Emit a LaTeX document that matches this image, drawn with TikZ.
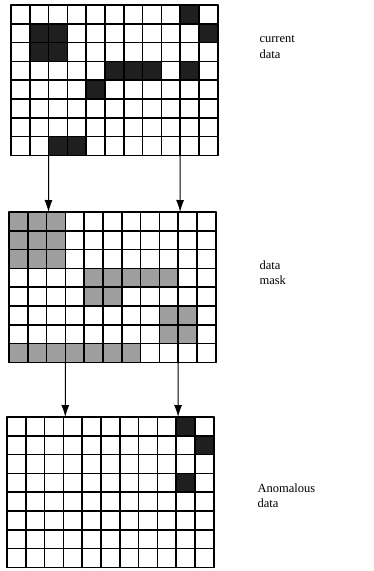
\documentclass[tikz,border=0pt]{standalone}
\usepackage{fontspec}
\setmainfont{Liberation Serif}
\usetikzlibrary{arrows.meta}

\begin{document}
\begin{tikzpicture}[x=1pt,y=-1pt,
    gridline/.style={line width=1.6pt, line cap=round},
    hotcell/.style={fill=black!88},
    maskcell/.style={fill=black!38},
    flow/.style={line width=1pt, -{Latex[length=12pt,width=8pt]}},
    label/.style={anchor=north west, align=left, font=\fontsize{12.5}{15.5}\selectfont}]

  \useasboundingbox (0,0) rectangle (373,571);

  \def \cw {18.8}  % cell width
  \def \ch {18.8}  % cell height
  \def \ncol {11}
  \def \nrow {8}

  % current data
  \begin{scope}[shift={(11,5)}]
    \foreach \c/\r in {9/0, 1/1, 2/1, 10/1, 1/2, 2/2, 5/3, 6/3, 7/3, 9/3, 4/4, 2/7, 3/7}
      \fill[hotcell] (\c*\cw,\r*\ch) rectangle ++(\cw,\ch);
    \foreach \i in {0,...,\ncol}
      \draw[gridline] (\i*\cw,0) -- (\i*\cw,\nrow*\ch);
    \foreach \j in {0,...,\nrow}
      \draw[gridline] (0,\j*\ch) -- (\ncol*\cw,\j*\ch);
    \coordinate (cur-a) at (2*\cw,\nrow*\ch);
    \coordinate (cur-b) at (9*\cw,\nrow*\ch);
  \end{scope}

  % data mask
  \begin{scope}[shift={(9,212)}]
    \foreach \c/\r in {0/0, 1/0, 2/0, 0/1, 1/1, 2/1, 0/2, 1/2, 2/2,
                       4/3, 5/3, 6/3, 7/3, 8/3, 4/4, 5/4,
                       8/5, 9/5, 8/6, 9/6,
                       0/7, 1/7, 2/7, 3/7, 4/7, 5/7, 6/7}
      \fill[maskcell] (\c*\cw,\r*\ch) rectangle ++(\cw,\ch);
    \foreach \i in {0,...,\ncol}
      \draw[gridline] (\i*\cw,0) -- (\i*\cw,\nrow*\ch);
    \foreach \j in {0,...,\nrow}
      \draw[gridline] (0,\j*\ch) -- (\ncol*\cw,\j*\ch);
    \coordinate (mask-in-a) at (2.1*\cw,0);
    \coordinate (mask-in-b) at (9.1*\cw,0);
    \coordinate (mask-a) at (3*\cw,\nrow*\ch);
    \coordinate (mask-b) at (9*\cw,\nrow*\ch);
  \end{scope}

  % anomalous data
  \begin{scope}[shift={(7,417)}]
    \foreach \c/\r in {9/0, 10/1, 9/3}
      \fill[hotcell] (\c*\cw,\r*\ch) rectangle ++(\cw,\ch);
    \foreach \i in {0,...,\ncol}
      \draw[gridline] (\i*\cw,0) -- (\i*\cw,\nrow*\ch);
    \foreach \j in {0,...,\nrow}
      \draw[gridline] (0,\j*\ch) -- (\ncol*\cw,\j*\ch);
    \coordinate (anom-in-a) at (3.1*\cw,0);
    \coordinate (anom-in-b) at (9.1*\cw,0);
  \end{scope}

  \draw[flow] (cur-a) -- (mask-in-a);
  \draw[flow] (cur-b) -- (mask-in-b);
  \draw[flow] (mask-a) -- (anom-in-a);
  \draw[flow] (mask-b) -- (anom-in-b);

  \node[label] (cur-lbl) at (256,32) {current\\data};
  \node[label] (mask-lbl) at (256,257) {data\\mask};
  \node[label] (anom-lbl) at (254,480) {Anomalous\\data};
\end{tikzpicture}
\end{document}
